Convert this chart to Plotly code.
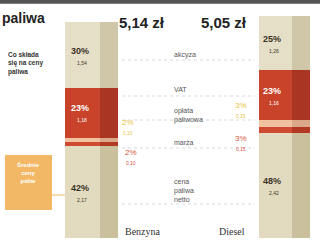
import plotly.graph_objects as go

# ---- data ----
fuels = ["Benzyna", "Diesel"]
prices = ["5,14 zł", "5,05 zł"]
components = ["cena paliwa netto", "marża", "opłata paliwowa", "VAT", "akcyza"]
share_benzyna = [42, 2, 2, 23, 30]
share_diesel = [48, 3, 3, 23, 25]
zl_benzyna = ["2,17", "0,10", "0,10", "1,18", "1,54"]
zl_diesel = ["2,42", "0,15", "0,15", "1,16", "1,26"]

front_colors = ["#e2dbc0", "#cf4a30", "#f0c2a0", "#c9432b", "#e6dfc8"]
side_colors = ["#cac09e", "#b23a24", "#dca88a", "#a93522", "#d0c7a8"]

# positions of bar faces (x in pixel-like axis units)
x_front = [82.5, 275]
x_side = [109, 301]
w_front = [35, 33]
w_side = [18, 18]

fig = go.Figure()
for i, comp in enumerate(components):
    vals = [share_benzyna[i], share_diesel[i]]
    fig.add_trace(go.Bar(
        x=[x_front[0], x_side[0], x_front[1], x_side[1]],
        y=[vals[0], vals[0], vals[1], vals[1]],
        width=[w_front[0], w_side[0], w_front[1], w_side[1]],
        marker=dict(color=[front_colors[i], side_colors[i], front_colors[i], side_colors[i]],
                    line=dict(width=0)),
        name=comp, showlegend=False, hoverinfo="skip"))

annotations = []
# in-bar labels for big segments
for f, (shares, zls) in enumerate([(share_benzyna, zl_benzyna), (share_diesel, zl_diesel)]):
    cum = 0
    for i, comp in enumerate(components):
        mid = cum + shares[i] / 2
        cum += shares[i]
        if shares[i] >= 10:
            col = "white" if comp == "VAT" else "#3a3326"
            annotations.append(dict(x=x_front[f] - 3, y=mid + 2, text=f"<b>{shares[i]}%</b>",
                                    showarrow=False, font=dict(size=9, color=col, family="Liberation Sans")))
            annotations.append(dict(x=x_front[f] - 1, y=mid - 3.5, text=zls[i],
                                    showarrow=False, font=dict(size=5, color=col, family="Liberation Sans")))

# small-share labels beside the bars
small_pos = {0: [(1, 131, "#d9553c"), (2, 128, "#e8c23c")], 1: [(1, 241, "#d9553c"), (2, 241, "#e8c23c")]}
for f, (shares, zls) in enumerate([(share_benzyna, zl_benzyna), (share_diesel, zl_diesel)]):
    for i, xpos, col in small_pos[f]:
        cum = sum(shares[:i]) + shares[i] / 2
        yoff = -6 if i == 1 else 6
        annotations.append(dict(x=xpos, y=cum + yoff, text=f"{shares[i]}%<br><span style='font-size:5px'>{zls[i]}</span>",
                                showarrow=False, font=dict(size=8, color=col, family="Liberation Sans")))

# middle category labels
mid_labels = [("cena<br>paliwa<br>netto", 22), ("marża", 44), ("opłata<br>paliwowa", 56), ("VAT", 68), ("akcyza", 84)]
for txt, yv in mid_labels:
    annotations.append(dict(x=172, y=yv, text=txt, showarrow=False, xanchor="left", align="left",
                            font=dict(size=7, color="#555555", family="Liberation Sans")))

# prices
for f in range(2):
    annotations.append(dict(x=[142, 224][f], y=99, text=f"<b>{prices[f]}</b>", showarrow=False,
                            font=dict(size=15, color="#222222", family="Liberation Sans")))
# fuel names
for f in range(2):
    annotations.append(dict(x=[143, 232][f], y=3, text=fuels[f], showarrow=False,
                            font=dict(size=10, color="#333333", family="Liberation Serif")))

# title & side texts
annotations.append(dict(x=0, y=101, text="<b>paliwa</b>", xanchor="left", showarrow=False,
                        font=dict(size=14, color="#222222", family="Liberation Sans")))
annotations.append(dict(x=6, y=80, text="<b>Co składa<br>się na ceny<br>paliwa</b>", xanchor="left", align="left",
                        showarrow=False, font=dict(size=6.5, color="#333333", family="Liberation Sans")))
annotations.append(dict(x=28, y=30, text="<b>Średnie<br>ceny<br>paliw</b>", showarrow=False,
                        font=dict(size=6, color="white", family="Liberation Sans")))

def py(p):
    return (238 - p) / 218 * 100

shapes = [
    dict(type="rect", xref="paper", yref="paper", x0=0, x1=1, y0=0.985, y1=1, fillcolor="#555555", line=dict(width=0)),
    dict(type="rect", xref="x", yref="y", x0=5, x1=52, y0=py(210), y1=py(155), fillcolor="#f3b865", line=dict(width=0)),
    dict(type="line", xref="x", yref="y", x0=52, x1=65, y0=py(195), y1=py(195), line=dict(color="#f3b865", width=1)),
]
for yp, x0, x1 in [(60, 122, 255), (96, 122, 255), (120, 122, 255), (148, 122, 255), (204, 122, 255)]:
    shapes.append(dict(type="line", xref="x", yref="y", x0=x0, x1=x1, y0=py(yp), y1=py(yp),
                       line=dict(color="#c8c8c8", width=0.7, dash="dot")))

fig.update_layout(
    width=320, height=246, margin=dict(l=0, r=0, t=0, b=0),
    paper_bgcolor="white", plot_bgcolor="white", barmode="stack", bargap=0,
    xaxis=dict(range=[0, 320], visible=False, fixedrange=True),
    yaxis=dict(range=[py(246), py(0)], visible=False, fixedrange=True),
    annotations=annotations, shapes=shapes,
)
fig.write_html("out.html")
